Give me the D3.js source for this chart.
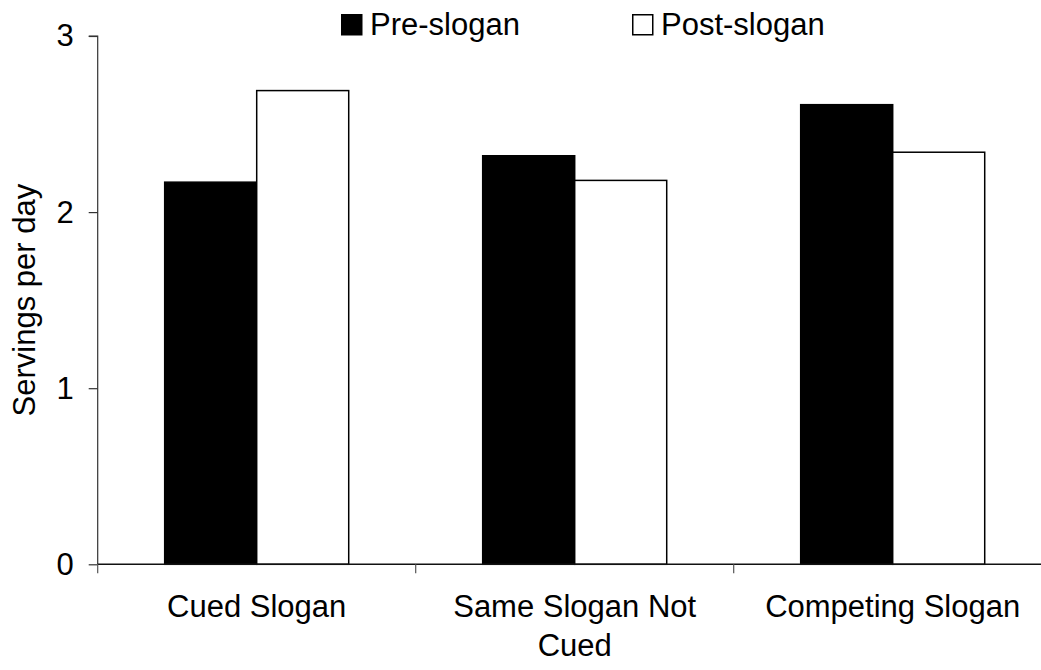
<!DOCTYPE html>
<html>
<head>
<meta charset="utf-8">
<script src="https://cdn.jsdelivr.net/npm/d3@7"></script>
<style>
  html, body { margin: 0; padding: 0; background: #fff; }
  svg { display: block; font-family: Arial, "Liberation Sans", sans-serif; }
</style>
</head>
<body>
<script>
const categories = ["Cued Slogan", "Same Slogan Not Cued", "Competing Slogan"];
const seriesNames = ["Pre-slogan", "Post-slogan"];
const preValues = [2.17, 2.32, 2.61];
const postValues = [2.69, 2.18, 2.34];
const yTicks = [0, 1, 2, 3];
const yTitle = "Servings per day";

const W = 1041, H = 670;
const plotLeft = 97.7, plotTop = 36, plotBottom = 564.3;
const step = 318;
const fontSize = 31;

const svg = d3.select("body").append("svg").attr("width", W).attr("height", H);

const x0 = d3.scaleBand().domain(categories).range([plotLeft, plotLeft + step * categories.length]).paddingInner(0).paddingOuter(0);
const x1 = d3.scaleBand().domain(seriesNames).range([0, x0.bandwidth()]).paddingInner(0).paddingOuter(0.728);
const y = d3.scaleLinear().domain([0, 3]).range([plotBottom, plotTop]);

const fills = { "Pre-slogan": "#000", "Post-slogan": "#fff" };
const rows = categories.map((c, i) => ({ cat: c, vals: [
  { s: "Pre-slogan", v: preValues[i] },
  { s: "Post-slogan", v: postValues[i] }
]}));

// bars
const g = svg.append("g");
g.selectAll("g.cat").data(rows).join("g")
  .attr("class", "cat")
  .attr("transform", d => `translate(${x0(d.cat)},0)`)
  .selectAll("rect").data(d => d.vals).join("rect")
  .attr("x", d => x1(d.s))
  .attr("y", d => y(d.v))
  .attr("width", x1.bandwidth())
  .attr("height", d => y(0) - y(d.v))
  .attr("fill", d => fills[d.s])
  .attr("stroke", "#000")
  .attr("stroke-width", 1.5);

// y axis
const yAxis = d3.axisLeft(y).tickValues(yTicks).tickFormat(d3.format("d")).tickSize(9).tickPadding(15);
const ya = svg.append("g").attr("transform", `translate(${plotLeft},0)`).call(yAxis);
ya.select(".domain").attr("stroke", "#333").attr("stroke-width", 1.2).attr("d", `M-9,${y(3)}H0V${y(0)}`);
ya.selectAll(".tick line").attr("stroke", "#333").attr("stroke-width", 1.2);
ya.selectAll(".tick text").attr("font-size", fontSize).attr("fill", "#000").attr("font-family", "Arial, 'Liberation Sans', sans-serif");

// x axis
const xa = svg.append("g").attr("transform", `translate(0,${plotBottom})`);
xa.append("line").attr("x1", plotLeft).attr("x2", plotLeft + step * categories.length).attr("y1", 0).attr("y2", 0)
  .attr("stroke", "#111").attr("stroke-width", 1.5);
const boundaries = d3.range(categories.length + 1).map(i => plotLeft + step * i);
xa.selectAll("line.tk").data(boundaries).join("line").attr("class", "tk")
  .attr("x1", d => d).attr("x2", d => d).attr("y1", 0).attr("y2", 9)
  .attr("stroke", "#555").attr("stroke-width", 1.2);

// category labels with wrap
const labels = xa.selectAll("text.cl").data(categories).join("text").attr("class", "cl")
  .attr("x", d => x0(d) + x0.bandwidth() / 2)
  .attr("y", 53)
  .attr("text-anchor", "middle")
  .attr("font-size", fontSize)
  .attr("fill", "#000");
labels.each(function(d) {
  const el = d3.select(this);
  const words = d.split(" ");
  const maxW = 265;
  let line = [], lines = [];
  const tmp = el.append("tspan");
  words.forEach(w => {
    line.push(w);
    tmp.text(line.join(" "));
    if (tmp.node().getComputedTextLength() > maxW && line.length > 1) {
      line.pop();
      lines.push(line.join(" "));
      line = [w];
    }
  });
  lines.push(line.join(" "));
  tmp.remove();
  lines.forEach((t, i) => {
    el.append("tspan").attr("x", x0(d) + x0.bandwidth() / 2).attr("dy", i === 0 ? 0 : 39).text(t);
  });
});

// y title
svg.append("text")
  .attr("transform", `translate(35,${(plotTop + plotBottom) / 2}) rotate(-90)`)
  .attr("text-anchor", "middle")
  .attr("font-size", fontSize)
  .attr("fill", "#000")
  .text(yTitle);

// legend
const legendX = [341, 632];
const lg = svg.selectAll("g.lg").data(seriesNames).join("g").attr("class", "lg")
  .attr("transform", (d, i) => `translate(${legendX[i]},14)`);
lg.append("rect").attr("x", 0.75).attr("y", 0.75).attr("width", 20).attr("height", 20)
  .attr("fill", d => fills[d]).attr("stroke", "#000").attr("stroke-width", 1.5);
lg.append("text").attr("x", 29).attr("y", 21).attr("font-size", fontSize).attr("fill", "#000").text(d => d);
</script>
</body>
</html>
